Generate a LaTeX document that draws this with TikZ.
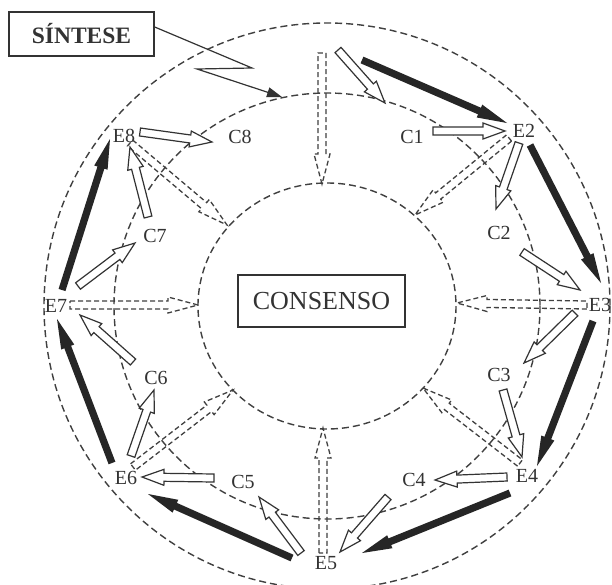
\documentclass[tikz,border=0pt]{standalone}
\usepackage{fontspec}
\setmainfont{Liberation Serif}
\usetikzlibrary{calc,arrows.meta}

\newcommand\shapearrow[6]{%
  \coordinate (saA) at #2;
  \coordinate (saB) at #3;
  \coordinate (saM) at ($(saB)!#6!(saA)$);
  \path[#1] ($(saA)!#4!90:(saB)$) -- ($(saM)!#4!90:(saB)$) -- ($(saM)!#5!90:(saB)$) -- (saB)
     -- ($(saM)!#5!-90:(saB)$) -- ($(saM)!#4!-90:(saB)$) -- ($(saA)!#4!-90:(saB)$) -- cycle;
}
\newcommand\blackarr[2]{\shapearrow{blackarrow}{#1}{#2}{3.6pt}{7pt}{30pt}}
\newcommand\openarr[2]{\shapearrow{openarrow}{#1}{#2}{4pt}{8pt}{22pt}}
\newcommand\dasharr[2]{\shapearrow{dasharrow}{#1}{#2}{4pt}{8pt}{30pt}}

\tikzset{
  ring/.style={draw=black!75, line width=1.4pt, dash pattern=on 7pt off 4pt},
  blackarrow/.style={fill=black!85},
  openarrow/.style={draw=black!80, fill=white, line width=1.2pt, line join=miter},
  dasharrow/.style={draw=black!75, line width=1.3pt, dash pattern=on 5pt off 3pt},
  lbl/.style={inner sep=0pt, text=black!80, font=\fontsize{20}{20}\selectfont},
  boxnode/.style={draw=black!80, line width=1.4pt, text=black!80, inner sep=0pt},
  synth/.style={draw=black!80, line width=1.2pt, -{Triangle[length=15pt,width=10pt]}},
}

\begin{document}
\begin{tikzpicture}[x=1pt,y=-1pt]
\useasboundingbox (0,0) rectangle (612,584);
\fill[white] (0,0) rectangle (612,584);

\coordinate (O) at (327,306);
% rings
\draw[ring] (O) circle[radius=283];
\draw[ring] (O) circle[radius=213];
\draw[ring] (O) ellipse[x radius=129, y radius=123];

% nodes
\coordinate (E1) at (324,44);
\node[lbl] (E2) at (524,131) {E2};
\node[lbl] (E3) at (600,305) {E3};
\node[lbl] (E4) at (527,476) {E4};
\node[lbl] (E5) at (326,563) {E5};
\node[lbl] (E6) at (126,478) {E6};
\node[lbl] (E7) at (56,306) {E7};
\node[lbl] (E8) at (124,136) {E8};
\node[lbl] (C1) at (412,137) {C1};
\node[lbl] (C2) at (499,233) {C2};
\node[lbl] (C3) at (499,375) {C3};
\node[lbl] (C4) at (414,480) {C4};
\node[lbl] (C5) at (243,482) {C5};
\node[lbl] (C6) at (156,378) {C6};
\node[lbl] (C7) at (155,236) {C7};
\node[lbl] (C8) at (240,137) {C8};

\node[boxnode, minimum width=167pt, minimum height=52pt, font=\fontsize{26}{26}\selectfont] (CONS) at (321.5,301) {CONSENSO};
\node[boxnode, minimum width=145pt, minimum height=44pt, font=\bfseries\fontsize{23.5}{23.5}\selectfont] (SIN) at (81.5,34) {SÍNTESE};

% dashed arrows towards consensus
\dasharr{($(E1)+(-2,9)$)}{($(O)+(-5,-122)$)}
\dasharr{($(E2)+(-15,7)$)}{($(O)+(88,-91)$)}
\dasharr{($(E3)+(-13,0)$)}{($(O)+(130,-3)$)}
\dasharr{($(E4)+(-7,-13)$)}{($(O)+(96,82)$)}
\dasharr{($(E5)+(-3,-10)$)}{($(O)+(-4,122)$)}
\dasharr{($(E6)+(7,-11)$)}{($(O)+(-94,84)$)}
\dasharr{($(E7)+(14,-1)$)}{($(O)+(-129,-1)$)}
\dasharr{($(E8)+(6,7)$)}{($(O)+(-100,-81)$)}

% open arrows
\openarr{($(E1)+(14,6)$)}{($(C1)+(-27,-34)$)}
\openarr{($(C1)+(21,-6)$)}{($(E2)+(-19,0)$)}
\openarr{($(E2)+(-5,12)$)}{($(C2)+(-3,-24)$)}
\openarr{($(C2)+(23,19)$)}{($(E3)+(-20,-15)$)}
\openarr{($(E3)+(-25,8)$)}{($(C3)+(25,-12)$)}
\openarr{($(C3)+(4,15)$)}{($(E4)+(-5,-19)$)}
\openarr{($(E4)+(-20,1)$)}{($(C4)+(21,0)$)}
\openarr{($(C4)+(-26,17)$)}{($(E5)+(14,-11)$)}
\openarr{($(E5)+(-25,-10)$)}{($(C5)+(16,15)$)}
\openarr{($(C5)+(-29,-4)$)}{($(E6)+(16,-1)$)}
\openarr{($(E6)+(5,-22)$)}{($(C6)+(-2,12)$)}
\openarr{($(C6)+(-23,-16)$)}{($(E7)+(24,9)$)}
\openarr{($(E7)+(22,-20)$)}{($(C7)+(-20,7)$)}
\openarr{($(C7)+(-7,-19)$)}{($(E8)+(6,11)$)}
\openarr{($(E8)+(16,-4)$)}{($(C8)+(-28,5)$)}

% black arrows E -> E
\blackarr{($(E1)+(38,16)$)}{($(E2)+(-17,-8)$)}
\blackarr{($(E2)+(6,14)$)}{($(E3)+(1,-22)$)}
\blackarr{($(E3)+(-7,16)$)}{($(E4)+(10,-10)$)}
\blackarr{($(E4)+(-17,17)$)}{($(E5)+(36,-10)$)}
\blackarr{($(E5)+(-34,-5)$)}{($(E6)+(22,16)$)}
\blackarr{($(E6)+(-14,-15)$)}{($(E7)+(1,13)$)}
\blackarr{($(E7)+(6,-16)$)}{($(E8)+(-14,3)$)}

% synthesis pointer
\coordinate (synthtip) at (282,97);
\draw[synth] ($(SIN.east)+(0,-7)$) -- (252,68) -- (197,69) -- (synthtip);
\end{tikzpicture}
\end{document}
